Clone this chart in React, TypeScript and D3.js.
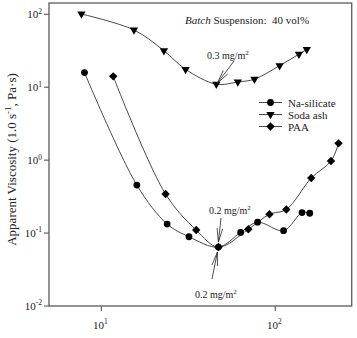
import * as d3 from 'd3';

// shear rate (s^-1) / apparent viscosity (Pa·s) for each dispersant
const naX = [8.0, 16.0, 23.9, 31.9, 47.1, 63.2, 79.1, 111.6, 142.5, 157.8];
const naY = [15.9, 0.455, 0.133, 0.089, 0.0643, 0.102, 0.141, 0.108, 0.191, 0.187];

const sodaX = [7.68, 15.4, 22.9, 30.5, 45.8, 60.9, 75.9, 105.9, 136.8, 151.7];
const sodaY = [101, 61, 31.7, 17.6, 11.0, 11.8, 12.9, 19.8, 28.4, 33.1];

const paaX = [11.7, 23.4, 35.1, 47.1, 70.0, 92.6, 115.7, 161, 209, 231];
const paaY = [14.1, 0.343, 0.110, 0.0643, 0.113, 0.181, 0.211, 0.569, 0.972, 1.7];

const xTicks = [10, 100];
const yTicks = [100, 10, 1, 0.1, 0.01];

const W = 357;
const H = 338;
const FONT = '"Liberation Serif", "DejaVu Serif", serif';
const INK = '#222';
const FRAME = '#666';

const x = d3.scaleLog().domain([5, 275]).range([49, 351.7]);
const y = d3.scaleLog().domain([0.01, 143]).range([306, 3]);

const line = d3
  .line<[number, number]>()
  .x(d => x(d[0]))
  .y(d => y(d[1]))
  .curve(d3.curveCatmullRom.alpha(0.5));

const zip = (xs: number[], ys: number[]) => xs.map((v, i) => [v, ys[i]] as [number, number]);

const triangle = d3.symbol(d3.symbolTriangle, 30)()!;
const diamondPath = 'M0,-4.2L4.2,0L0,4.2L-4.2,0Z';

function Marker({ kind, cx, cy }: { kind: string; cx: number; cy: number }) {
  if (kind === 'circle') return <circle cx={cx} cy={cy} r={3.4} fill="#000" />;
  if (kind === 'tri')
    return <path d={triangle} transform={`translate(${cx},${cy}) rotate(180)`} fill="#000" />;
  return <path d={diamondPath} transform={`translate(${cx},${cy})`} fill="#000" />;
}

function Pow({ x: px, y: py, exp, anchor = 'middle', size = 11 }: any) {
  return (
    <text x={px} y={py} textAnchor={anchor} fontFamily={FONT} fontSize={size} fill={INK}>
      10
      <tspan fontSize={size * 0.68} dy={-size * 0.42}>
        {exp}
      </tspan>
    </text>
  );
}

// open arrow: shaft plus two long, narrow barbs at the tip
function Arrow({ from, to }: { from: [number, number]; to: [number, number] }) {
  const [x1, y1] = from;
  const [x2, y2] = to;
  const a = Math.atan2(y2 - y1, x2 - x1);
  const len = 14;
  const spread = 0.2;
  const b1: [number, number] = [x2 - len * Math.cos(a - spread), y2 - len * Math.sin(a - spread)];
  const b2: [number, number] = [x2 - len * Math.cos(a + spread), y2 - len * Math.sin(a + spread)];
  return (
    <g stroke={INK} strokeWidth={0.8} fill="none">
      <line x1={x1} y1={y1} x2={x2} y2={y2} />
      <polyline points={`${b1[0]},${b1[1]} ${x2},${y2} ${b2[0]},${b2[1]}`} />
    </g>
  );
}

function MgLabel({ x: px, y: py, val }: { x: number; y: number; val: string }) {
  return (
    <text x={px} y={py} fontFamily={FONT} fontSize={10} fill={INK}>
      {val} mg/m
      <tspan fontSize={7} dy={-4}>
        2
      </tspan>
    </text>
  );
}

export default function App() {
  const series = [
    { name: 'Na-silicate', kind: 'circle', pts: zip(naX, naY) },
    { name: 'Soda ash', kind: 'tri', pts: zip(sodaX, sodaY) },
    { name: 'PAA', kind: 'diamond', pts: zip(paaX, paaY) },
  ];

  const [x0, x1] = x.range();
  const [y0, y1] = y.range();

  // minima that the arrows point at
  const sodaMin: [number, number] = [x(sodaX[4]), y(sodaY[4])];
  const naMin: [number, number] = [x(naX[4]), y(naY[4])];

  return (
    <svg
      width={W}
      height={H}
      style={{ position: 'absolute', left: 0, top: 0, background: '#fff' }}
    >
      <rect x={0} y={0} width={W} height={H} fill="#fff" />

      {/* frame */}
      <rect x={x0} y={y1} width={x1 - x0} height={y0 - y1} fill="none" stroke={FRAME} strokeWidth={1.4} />

      {yTicks.map(t => (
        <g key={t}>
          <line x1={x0 - 5} x2={x0} y1={y(t)} y2={y(t)} stroke={FRAME} strokeWidth={1.2} />
          <Pow x={x0 - 7} y={y(t) + 4} exp={String(Math.round(Math.log10(t)))} anchor="end" />
        </g>
      ))}
      {xTicks.map(t => (
        <g key={t}>
          <line x1={x(t)} x2={x(t)} y1={y0} y2={y0 + 5} stroke={FRAME} strokeWidth={1.2} />
          <Pow x={x(t) - 1} y={y0 + 23} exp={String(Math.round(Math.log10(t)))} />
        </g>
      ))}

      <text
        transform={`translate(16,${(y0 + y1) / 2 + 5}) rotate(-90)`}
        textAnchor="middle"
        fontFamily={FONT}
        fontSize={13}
        fill={INK}
      >
        Apparent Viscosity (1.0 s
        <tspan fontSize={9} dy={-5}>-1</tspan>
        <tspan dy={5}>, Pa·s)</tspan>
      </text>

      {series.map(s => (
        <path key={s.name} d={line(s.pts)!} fill="none" stroke="#333" strokeWidth={0.9} />
      ))}
      {series.map(s =>
        s.pts.map((p, i) => <Marker key={s.name + i} kind={s.kind} cx={x(p[0])} cy={y(p[1])} />)
      )}

      <text x={185} y={24} fontFamily={FONT} fontSize={11} fill={INK}>
        <tspan fontStyle="italic">Batch</tspan> Suspension:{'\u00a0\u00a0'}40 vol%
      </text>

      {/* legend */}
      {series.map((s, i) => {
        const ly = 102.5 + i * 12;
        return (
          <g key={s.name}>
            <line x1={259} x2={282} y1={ly} y2={ly} stroke="#333" strokeWidth={0.9} />
            <Marker kind={s.kind} cx={270.5} cy={ly} />
            <text x={288} y={ly + 4} fontFamily={FONT} fontSize={11} fill={INK}>
              {s.name}
            </text>
          </g>
        );
      })}

      <MgLabel x={207} y={59} val="0.3" />
      <Arrow from={[234, 61]} to={[sodaMin[0] + 1, sodaMin[1] - 1]} />

      <MgLabel x={209} y={214} val="0.2" />
      <Arrow from={[221, 218]} to={[naMin[0], naMin[1] - 5]} />

      <MgLabel x={195} y={298} val="0.2" />
      <Arrow from={[212, 279]} to={[naMin[0] - 1, naMin[1] + 5]} />
    </svg>
  );
}
